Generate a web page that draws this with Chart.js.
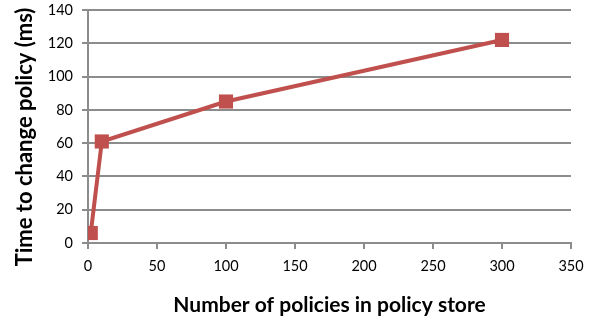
<!DOCTYPE html>
<html>
<head>
<meta charset="utf-8">
<script src="https://cdn.jsdelivr.net/npm/chart.js@4"></script>
<style>
  html, body { margin: 0; padding: 0; background: #ffffff; }
  #wrap { width: 592px; height: 320px; }
</style>
</head>
<body>
<div id="wrap"><canvas id="c" width="592" height="320"></canvas></div>
<script>
// Policy store size vs. time needed to change a policy
const policyCounts = [2, 10, 100, 300];
const changeTimesMs = [6, 61, 85, 122];
const xTicks = [0, 50, 100, 150, 200, 250, 300, 350];
const yTicks = [0, 20, 40, 60, 80, 100, 120, 140];
const xTitle = 'Number of policies in policy store';
const yTitle = 'Time to change policy (ms)';

const points = policyCounts.map((n, i) => ({ x: n, y: changeTimesMs[i] }));

// Vertical axis title, drawn at a fixed spot left of the tick labels
const yTitlePlugin = {
  id: 'yTitle',
  afterDraw(chart) {
    const ctx = chart.ctx;
    ctx.save();
    ctx.translate(25, 137);
    ctx.rotate(-Math.PI / 2);
    ctx.font = 'bold 22px Lato';
    ctx.fillStyle = '#000000';
    ctx.textAlign = 'center';
    ctx.textBaseline = 'middle';
    ctx.fillText(yTitle, 0, 0);
    ctx.restore();
  }
};

new Chart(document.getElementById('c'), {
  type: 'scatter',
  data: {
    datasets: [{
      data: points,
      showLine: true,
      borderColor: '#C0504D',
      backgroundColor: '#C0504D',
      borderWidth: 4,
      pointStyle: 'rect',
      pointRadius: 10,
      pointHoverRadius: 10,
      pointBorderWidth: 0,
      tension: 0
    }]
  },
  plugins: [yTitlePlugin],
  options: {
    responsive: false,
    animation: false,
    layout: { padding: { left: 0, right: 21, top: 10, bottom: 0 } },
    plugins: { legend: { display: false }, tooltip: { enabled: false } },
    scales: {
      x: {
        type: 'linear',
        min: 0, max: 350,
        afterBuildTicks: (s) => { s.ticks = xTicks.map(v => ({ value: v })); },
        afterFit: (s) => { s.height = 77; s.paddingLeft = 0; s.paddingRight = 0; },
        grid: { display: true, drawOnChartArea: false, drawTicks: true, tickLength: 6, color: '#8C8C8C', lineWidth: 2 },
        border: { display: true, color: '#8C8C8C', width: 2 },
        ticks: { color: '#000000', font: { family: 'Lato', size: 14.5 }, padding: 9, maxRotation: 0 },
        title: { display: true, text: xTitle, color: '#000000',
                 font: { family: 'Lato', size: 21, weight: 'bold' }, padding: { top: 0, bottom: 2.5 } }
      },
      y: {
        type: 'linear',
        min: 0, max: 140,
        afterBuildTicks: (s) => { s.ticks = yTicks.map(v => ({ value: v })); },
        afterFit: (s) => { s.width = 88; s.paddingTop = 0; s.paddingBottom = 0; },
        grid: { color: '#8C8C8C', lineWidth: 2, tickLength: 6 },
        border: { display: true, color: '#8C8C8C', width: 2 },
        ticks: { color: '#000000', font: { family: 'Lato', size: 14.5 }, padding: 9 },
        title: { display: false }
      }
    }
  }
});
</script>
</body>
</html>
